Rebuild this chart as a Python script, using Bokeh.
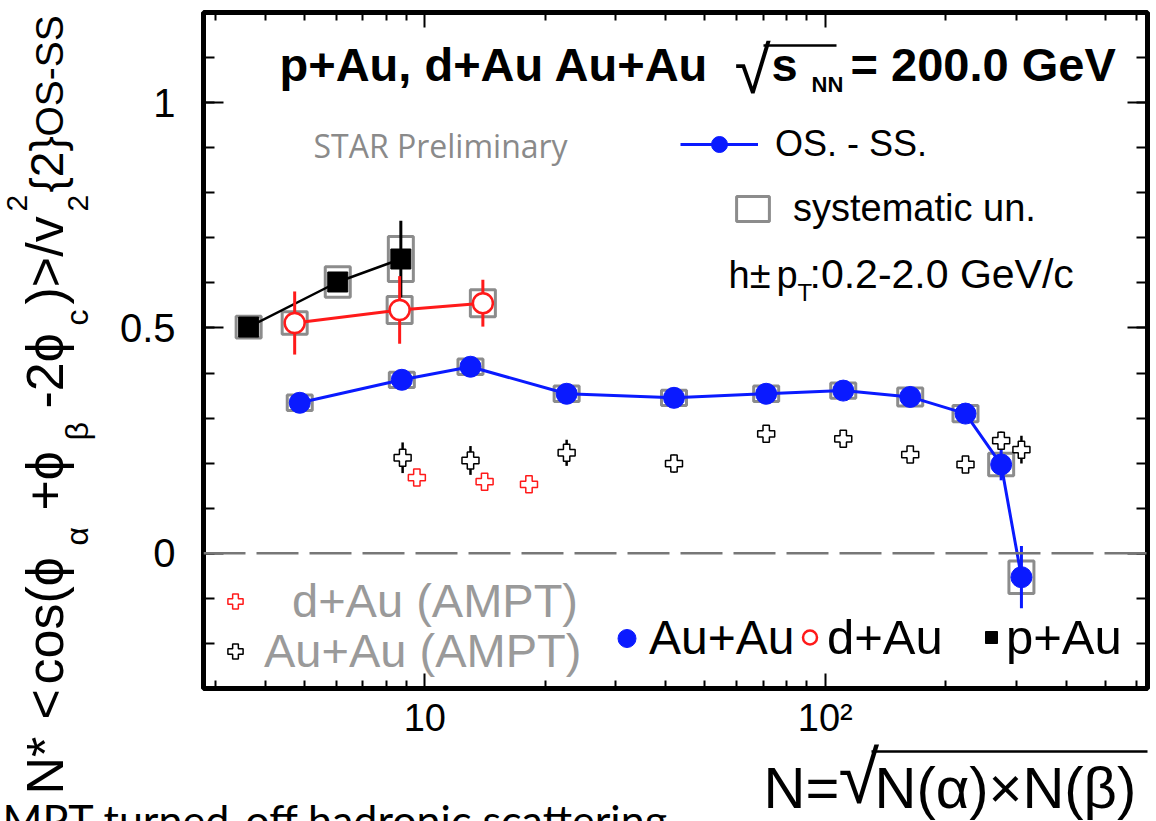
import math
from bokeh.plotting import figure
from bokeh.models import (Range1d, FixedTicker, LinearAxis, LogAxis, Span, Label,
                          Legend, LegendItem, Arrow, ColumnDataSource, GridBox, Spacer)
from bokeh.embed import file_html
from bokeh.resources import INLINE

# ---- measured correlator vs. N = sqrt(N(alpha) x N(beta)) ----
auau_n = [4.87, 8.76, 13.0, 22.6, 41.9, 71.2, 110.9, 163, 224, 275, 309]
auau_v = [0.334, 0.385, 0.414, 0.354, 0.345, 0.354, 0.361, 0.347, 0.310, 0.197, -0.053]
auau_stat = [0.008, 0.008, 0.008, 0.008, 0.008, 0.008, 0.008, 0.008, 0.010, 0.035, 0.069]
auau_sys = [0.017, 0.017, 0.017, 0.017, 0.017, 0.017, 0.017, 0.020, 0.018, 0.025, 0.036]

dau_n = [4.73, 8.65, 13.96]
dau_v = [0.511, 0.540, 0.555]
dau_stat = [0.070, 0.075, 0.052]
dau_sys = [0.025, 0.030, 0.030]

pau_n = [3.63, 6.06, 8.71]
pau_v = [0.502, 0.602, 0.653]
pau_stat = [0.015, 0.020, 0.085]
pau_sys = [0.024, 0.034, 0.050]

# ---- AMPT (hadronic scattering off) ----
ampt_auau_n = [8.8, 13.0, 22.6, 41.9, 71.2, 110.9, 163, 224, 275, 309]
ampt_auau_v = [0.212, 0.206, 0.223, 0.199, 0.265, 0.254, 0.219, 0.197, 0.250, 0.230]
ampt_auau_err = [0.034, 0.032, 0.029, 0.020, 0.006, 0.006, 0.006, 0.006, 0.020, 0.031]

ampt_dau_n = [9.55, 14.1, 18.2]
ampt_dau_v = [0.168, 0.159, 0.153]
ampt_dau_err = [0.004, 0.004, 0.004]

# ---- axis ticks ----
x_major = [10, 100]
x_minor = [3, 4, 5, 6, 7, 8, 9, 20, 30, 40, 50, 60, 70, 80, 90, 200, 300, 400, 500, 600]
x_tick_text = {10: "10", 100: "10²"}
y_major = [0, 0.5, 1]
y_minor = [round(-0.3 + 0.1 * i, 1) for i in range(16)]
y_tick_text = {0: "0", 0.5: "0.5", 1: "1"}

BLUE = "#0a1aff"
RED = "#ff1a1a"
GREY_BOX = "#8c8c8c"
FONT = "Liberation Sans"

# page grid (px): columns 0|112|700|1156, rows 0|741|797|821
COL1, COL2, ROW1, ROW2, PAGE_W, PAGE_H = 112, 700, 741, 797, 1156, 821
FRAME_L, FRAME_R, FRAME_T, FRAME_B = 203, 1147, 12, 688
BASELINE_K = 0.35   # label anchor sits this many em below the drawn baseline


def series(n, v, err, sys=None):
    d = dict(x=n, y=v,
             lo=[a - e for a, e in zip(v, err)],
             hi=[a + e for a, e in zip(v, err)])
    if sys is not None:
        d["h"] = [2 * s for s in sys]
    return ColumnDataSource(d)


src_auau = series(auau_n, auau_v, auau_stat, auau_sys)
src_dau = series(dau_n, dau_v, dau_stat, dau_sys)
src_pau = series(pau_n, pau_v, pau_stat, pau_sys)
src_ampt_auau = series(ampt_auau_n, ampt_auau_v, ampt_auau_err)
src_ampt_dau = series(ampt_dau_n, ampt_dau_v, ampt_dau_err)

p = figure(width=PAGE_W - COL1, height=ROW1, x_axis_type="log",
           x_range=Range1d(2.8, 638), y_range=Range1d(-0.3, 1.2),
           output_backend="svg", toolbar_location=None,
           min_border_left=FRAME_L - COL1, min_border_right=PAGE_W - FRAME_R,
           min_border_top=FRAME_T, min_border_bottom=ROW1 - FRAME_B)
p.title = None
p.xgrid.visible = False
p.ygrid.visible = False
p.outline_line_color = "black"
p.outline_line_width = 5
p.background_fill_color = "white"
p.border_fill_color = "white"

xt = FixedTicker(ticks=x_major, minor_ticks=x_minor)
yt = FixedTicker(ticks=y_major, minor_ticks=y_minor)


def style_axis(ax, major_len, minor_len, size=None):
    ax.axis_line_color = None
    ax.major_tick_in = major_len
    ax.major_tick_out = 0
    ax.minor_tick_in = minor_len
    ax.minor_tick_out = 0
    ax.major_tick_line_width = 2
    ax.minor_tick_line_width = 2
    ax.major_tick_line_color = "black"
    ax.minor_tick_line_color = "black"
    ax.major_label_text_font = FONT
    if size:
        ax.major_label_text_font_size = size
        ax.major_label_text_color = "black"
    else:
        # tick marks only on the mirrored sides
        ax.major_label_text_font_size = "2px"
        ax.major_label_text_alpha = 0
        ax.major_label_standoff = 0


xa = p.xaxis[0]
xa.ticker = xt
xa.major_label_overrides = x_tick_text
xa.major_label_standoff = 8
style_axis(xa, 15, 8, "38px")

ya = p.yaxis[0]
ya.ticker = yt
ya.major_label_overrides = y_tick_text
ya.major_label_standoff = 28
style_axis(ya, 20, 11, "40px")

top_ax = LogAxis(ticker=xt)
style_axis(top_ax, 15, 8)
p.add_layout(top_ax, "above")
right_ax = LinearAxis(ticker=yt)
style_axis(right_ax, 20, 11)
p.add_layout(right_ax, "right")

# zero line
p.add_layout(Span(location=0, dimension="width", line_color="#777777",
                  line_width=2.5, line_dash="42 11"))

# systematic boxes
sys_auau = p.rect(x="x", y="y", width=25, width_units="screen", height="h",
                  source=src_auau, fill_alpha=0, line_color=GREY_BOX, line_width=3)
p.rect(x="x", y="y", width=25, width_units="screen", height="h",
       source=src_pau, fill_alpha=0, line_color=GREY_BOX, line_width=3)
p.rect(x="x", y="y", width=25, width_units="screen", height="h",
       source=src_dau, fill_alpha=0, line_color=GREY_BOX, line_width=3)

# connecting lines
line_pau = p.line("x", "y", source=src_pau, line_color="black", line_width=2.5)
line_dau = p.line("x", "y", source=src_dau, line_color=RED, line_width=3)
line_auau = p.line("x", "y", source=src_auau, line_color=BLUE, line_width=3)

# statistical error bars
p.segment(x0="x", y0="lo", x1="x", y1="hi", source=src_pau, line_color="black", line_width=3)
p.segment(x0="x", y0="lo", x1="x", y1="hi", source=src_dau, line_color=RED, line_width=3)
p.segment(x0="x", y0="lo", x1="x", y1="hi", source=src_auau, line_color=BLUE, line_width=3)
p.segment(x0="x", y0="lo", x1="x", y1="hi", source=src_ampt_auau, line_color="black", line_width=2.5)
p.segment(x0="x", y0="lo", x1="x", y1="hi", source=src_ampt_dau, line_color=RED, line_width=2.5)

# markers
ampt_auau_r = p.scatter("x", "y", source=src_ampt_auau, marker="plus", size=17,
                        fill_color="white", line_color="black", line_width=1.5)
ampt_dau_r = p.scatter("x", "y", source=src_ampt_dau, marker="plus", size=17,
                       fill_color="white", line_color=RED, line_width=1.5)
pau_r = p.scatter("x", "y", source=src_pau, marker="square", size=20,
                  fill_color="black", line_color="black")
dau_r = p.scatter("x", "y", source=src_dau, marker="circle", size=20,
                  fill_color="white", line_color=RED, line_width=2.5)
auau_r = p.scatter("x", "y", source=src_auau, marker="circle", size=21,
                   fill_color=BLUE, line_color=BLUE)


# ---- legends (page coordinates converted to the frame) ----
def legend(label, renderers, left, bottom, gw, gh, standoff, size, color="black"):
    lg = Legend(items=[LegendItem(label=label, renderers=renderers)],
                location=(int(left - FRAME_L), int(FRAME_B - bottom)),
                glyph_width=int(gw), glyph_height=int(gh),
                label_standoff=int(standoff), padding=0, margin=0, spacing=0,
                border_line_color=None, background_fill_alpha=0,
                label_text_font=FONT, label_text_font_size=f"{size}px",
                label_text_color=color)
    p.add_layout(lg)


legend("OS. - SS.", [line_auau, auau_r], 680, 165, 78, 40, 17, 36)
legend("systematic un.", [sys_auau], 732, 230, 41, 31, 20, 38)
legend("d+Au (AMPT)", [ampt_dau_r], 216, 628, 38, 50, 38, 47, "#9a9a9a")
legend("Au+Au (AMPT)", [ampt_auau_r], 216, 678, 38, 50, 10, 47, "#9a9a9a")
legend("Au+Au", [auau_r], 604, 665, 45, 50, 0, 48)
legend("d+Au", [dau_r], 792, 665, 35, 50, 0, 49)
legend("p+Au", [pau_r], 976, 665, 30, 50, 0, 49)


# ---- text helpers: (cx, cy) are page pixels of the baseline start ----
def put(fig, ox, oy, text, cx, cy, size, color="black", font=FONT, style="normal", angle=0):
    if angle:
        cx -= BASELINE_K * size
    else:
        cy -= BASELINE_K * size
    fig.add_layout(Label(x=cx - ox, y=oy - cy, x_units="screen", y_units="screen",
                         text=text, text_font=font, text_font_size=f"{size}px",
                         text_color=color, text_font_style=style, angle=angle,
                         text_align="left", text_baseline="alphabetic"))


def hline(fig, ox, oy, x0, x1, cy, width):
    fig.add_layout(Arrow(x_start=x0 - ox, y_start=oy - cy, x_end=x1 - ox, y_end=oy - cy,
                         start_units="screen", end_units="screen", end=None,
                         line_color="black", line_width=width))


def blank(w, h):
    f = figure(width=w, height=h, output_backend="svg", toolbar_location=None,
               x_axis_location=None, y_axis_location=None,
               min_border_left=0, min_border_right=0, min_border_top=0, min_border_bottom=0)
    f.title = None
    f.grid.visible = False
    f.outline_line_color = None
    f.background_fill_color = "white"
    f.border_fill_color = "white"
    return f


# header inside the frame
put(p, FRAME_L, FRAME_B, "p+Au, d+Au Au+Au", 279, 80, 47, style="bold")
put(p, FRAME_L, FRAME_B, "√", 734, 93, 66)
hline(p, FRAME_L, FRAME_B, 763, 836, 45, 2.5)
put(p, FRAME_L, FRAME_B, "s", 771, 80, 47, style="bold")
put(p, FRAME_L, FRAME_B, "NN", 811, 92, 22, style="bold")
put(p, FRAME_L, FRAME_B, "= 200.0 GeV", 850, 80, 47, style="bold")

put(p, FRAME_L, FRAME_B, "STAR Preliminary", 313, 156, 32, color="#8a8a8a", font="Open Sans")

put(p, FRAME_L, FRAME_B, "h±", 728, 288, 38)
put(p, FRAME_L, FRAME_B, "p", 776, 288, 38)
put(p, FRAME_L, FRAME_B, "T", 797, 300, 24)
put(p, FRAME_L, FRAME_B, ":0.2-2.0 GeV/c", 809, 288, 41)

# y-axis title (left strip), read bottom to top
ylab = blank(COL1, ROW2)
MAIN, SUBSZ = 52, 32
BASE_X, SUB_X, SUP_X = 63, 88, 27
ytitle = [  # (text, start y on page, role, size)
    ("N*", 794, "main", MAIN), ("<", 719, "main", MAIN), ("cos(ϕ", 684, "main", MAIN),
    ("α", 545, "sub", SUBSZ), ("+ϕ", 510, "main", MAIN), ("β", 440, "sub", SUBSZ),
    ("-2ϕ", 408, "main", MAIN), ("c", 325, "sub", SUBSZ), (")>/v", 304, "main", MAIN),
    ("2", 211, "sup", 30), ("2", 211, "sub", 30), ("{2}", 192, "main", 46),
    ("OS-SS", 136, "main", 39),
]
for txt, start, role, size in ytitle:
    bx = {"main": BASE_X, "sub": SUB_X, "sup": SUP_X}[role]
    put(ylab, 0, ROW2, txt, bx, start, size, angle=math.pi / 2)

# x-axis title (lower right)
xlab = blank(PAGE_W - COL2, PAGE_H - ROW1)
put(xlab, COL2, PAGE_H, "N=", 763, 807, 58)
put(xlab, COL2, PAGE_H, "√", 838, 803, 74)
hline(xlab, COL2, PAGE_H, 871, 1154, 751, 2.5)
put(xlab, COL2, PAGE_H, "N(α)×N(β)", 874, 807, 58)

# footnote along the bottom edge
foot = blank(COL2, PAGE_H - ROW2)
put(foot, 0, PAGE_H, "AMPT turned-off hadronic scattering", -27, 834, 43, font="Lato")

gap = Spacer(width=COL2 - COL1, height=ROW2 - ROW1)

page = GridBox(children=[
    (p, 0, 1, 1, 2),
    (ylab, 0, 0, 2, 1),
    (gap, 1, 1, 1, 1),
    (xlab, 1, 2, 2, 1),
    (foot, 2, 0, 1, 2),
], spacing=0)

open("out.html", "w").write(file_html(page, INLINE))
